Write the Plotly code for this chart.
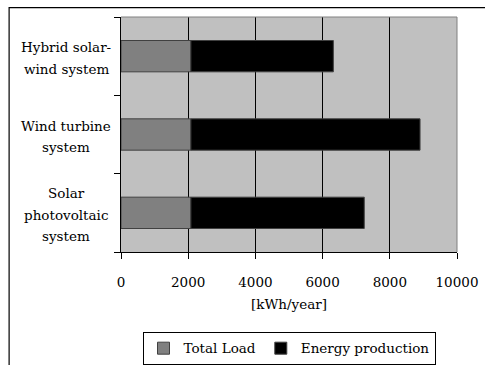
import plotly.graph_objects as go

# Systems (bottom to top on the chart)
systems = ["Solar photovoltaic system", "Wind turbine system", "Hybrid solar-wind system"]
system_label_lines = [["Solar", "photovoltaic", "system"],
                      ["Wind turbine", "system"],
                      ["Hybrid solar-", "wind system"]]

# Annual values in kWh/year
total_load = [2080, 2080, 2080]
total_production = [7240, 8900, 6320]
# stacked segment beyond the load
energy_production = [p - l for p, l in zip(total_production, total_load)]

x_ticks = [0, 2000, 4000, 6000, 8000, 10000]

FONT = "DejaVu Serif"
FS = 13.5
LINE_H = 21.5

fig = go.Figure()
fig.add_trace(go.Bar(
    y=systems, x=total_load, orientation="h", name="Total Load",
    marker=dict(color="#808080", line=dict(color="#404040", width=1)),
    width=0.4,
))
fig.add_trace(go.Bar(
    y=systems, x=energy_production, base=total_load, orientation="h",
    name="Energy production",
    marker=dict(color="#000000", line=dict(color="#404040", width=1)),
    width=0.4,
))

fig.update_layout(
    width=485, height=365,
    margin=dict(l=121, r=28, t=17, b=113, autoexpand=False),
    barmode="overlay",
    plot_bgcolor="#C0C0C0",
    paper_bgcolor="#FFFFFF",
    font=dict(family=FONT, size=FS, color="#000000"),
    showlegend=True,
    legend=dict(
        orientation="h", x=0.5, xanchor="center", y=-0.34, yanchor="top",
        bordercolor="#000000", borderwidth=1, bgcolor="#FFFFFF",
        font=dict(family=FONT, size=FS), itemwidth=30,
        tracegroupgap=0,
    ),
)

fig.update_xaxes(
    range=[0, 10000], tickvals=x_ticks, ticktext=[str(v) for v in x_ticks],
    showgrid=True, gridcolor="#000000", gridwidth=1, zeroline=False,
    showline=True, linecolor="#000000", linewidth=1,
    ticks="outside", ticklen=6, tickcolor="#000000",
    ticklabelstandoff=12, automargin=False,
    tickfont=dict(family=FONT, size=FS),
    title=dict(text="[kWh/year]", font=dict(family=FONT, size=FS), standoff=10),
)
fig.update_yaxes(
    type="category", categoryorder="array", categoryarray=systems,
    showticklabels=False, showgrid=False, zeroline=False, automargin=False,
    showline=True, linecolor="#000000", linewidth=1,
    ticks="outside", ticklen=6, tickcolor="#000000", tickson="boundaries",
)

# Category labels, one centred line at a time
for s, lines in zip(systems, system_label_lines):
    n = len(lines)
    for i, line in enumerate(lines):
        fig.add_annotation(
            x=-0.038, xref="paper", y=s, yref="y", text=line, showarrow=False,
            xanchor="center", yanchor="middle", align="center",
            yshift=((n - 1) / 2 - i) * LINE_H - 2,
            xshift=-42,
            font=dict(family=FONT, size=FS),
        )

# Plot-area border: grey top and right edges
fig.add_shape(type="line", xref="paper", yref="paper", x0=0, x1=1, y0=1, y1=1,
              line=dict(color="#808080", width=1), layer="above")
fig.add_shape(type="line", xref="paper", yref="paper", x0=1, x1=1, y0=0, y1=1,
              line=dict(color="#808080", width=1), layer="above")
# Outer chart frame
fig.add_shape(type="rect", xref="paper", yref="paper", x0=-0.333, x1=1.3, y0=-0.7, y1=1.04,
              line=dict(color="#000000", width=1.2), fillcolor="rgba(0,0,0,0)", layer="above")

fig.write_html("out.html")
